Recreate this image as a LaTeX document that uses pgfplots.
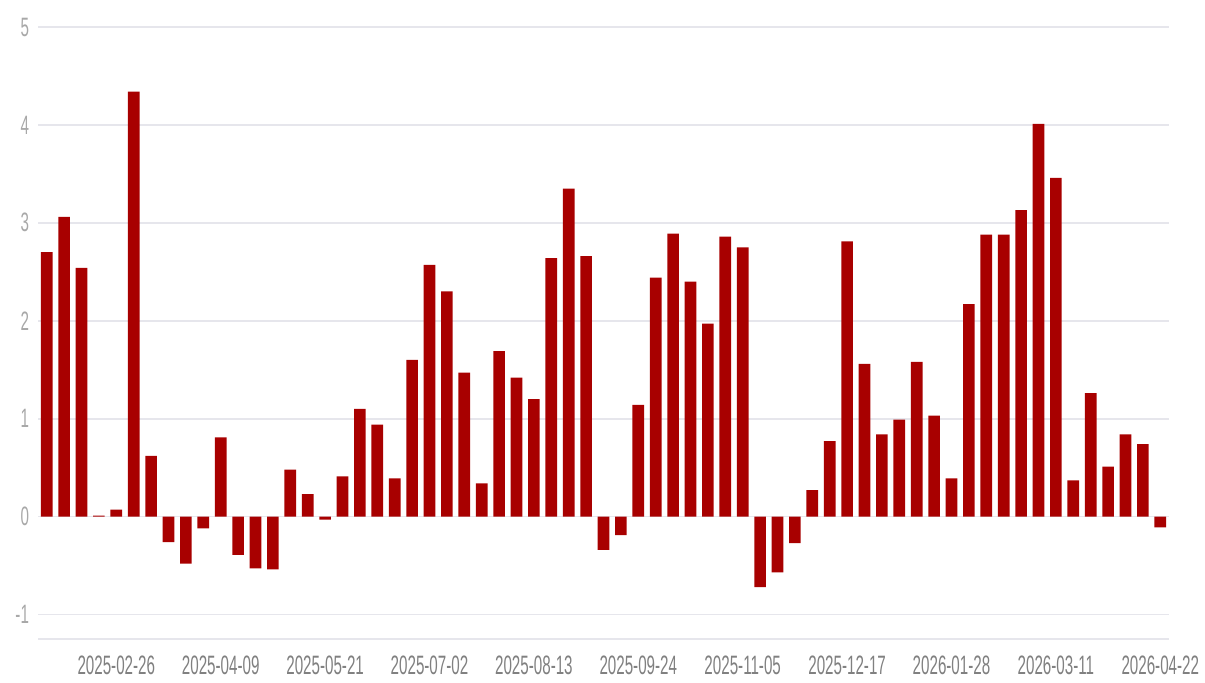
\documentclass[border=0pt]{standalone}
\usepackage{pgfplots}
\pgfplotsset{compat=1.18}
\usepackage{fontspec}
\setmainfont[FakeStretch=0.57]{Liberation Sans}
\definecolor{barred}{HTML}{A80000}
\definecolor{gridc}{HTML}{E6E6EC}
\definecolor{xlab}{HTML}{808080}
\definecolor{ylab}{HTML}{A8A8A8}
\begin{document}
\begin{tikzpicture}
\begin{axis}[
  at={(0,0)}, anchor=south west,
  scale only axis, width=565.5pt, height=306pt,
  xmin=-0.5, xmax=64.5, ymin=-1.25, ymax=5,
  ybar, bar width=0.67, bar shift=0pt,
  axis line style={draw=none},
  major tick length=0pt,
  ymajorgrids, grid style={gridc, line width=0.9pt},
  ytick={-1,0,1,2,3,4,5},
  extra y ticks={-1.25}, extra y tick labels={},
  extra y tick style={grid style={gridc, line width=0.9pt}},
  xtick={4,10,16,22,28,34,40,46,52,58,64},
  xticklabels={2025-02-26,2025-04-09,2025-05-21,2025-07-02,2025-08-13,2025-09-24,2025-11-05,2025-12-17,2026-01-28,2026-03-11,2026-04-22},
  xticklabel style={font=\fontsize{13.3}{14}\selectfont, text=xlab, anchor=north, yshift=-5pt},
  yticklabel style={font=\fontsize{13.3}{14}\selectfont, text=ylab, xshift=-1pt},
  /pgf/number format/assume math mode=true,
  clip=false,
]
\addplot[fill=barred, draw=none] coordinates {
(0,2.70) (1,3.06) (2,2.54) (3,0.01) (4,0.07) (5,4.34) (6,0.62) (7,-0.26) (8,-0.48) (9,-0.12)
(10,0.81) (11,-0.39) (12,-0.53) (13,-0.54) (14,0.48) (15,0.23) (16,-0.03) (17,0.41) (18,1.10) (19,0.94)
(20,0.39) (21,1.60) (22,2.57) (23,2.30) (24,1.47) (25,0.34) (26,1.69) (27,1.42) (28,1.20) (29,2.64)
(30,3.35) (31,2.66) (32,-0.34) (33,-0.19) (34,1.14) (35,2.44) (36,2.89) (37,2.40) (38,1.97) (39,2.86)
(40,2.75) (41,-0.72) (42,-0.57) (43,-0.27) (44,0.27) (45,0.77) (46,2.81) (47,1.56) (48,0.84) (49,0.99)
(50,1.58) (51,1.03) (52,0.39) (53,2.17) (54,2.88) (55,2.88) (56,3.13) (57,4.01) (58,3.46) (59,0.37)
(60,1.26) (61,0.51) (62,0.84) (63,0.74) (64,-0.11)
};
\end{axis}
\pgfresetboundingbox
\path[use as bounding box] (-19pt,-22pt) rectangle (583.5pt,319.5pt);
\end{tikzpicture}
\end{document}
